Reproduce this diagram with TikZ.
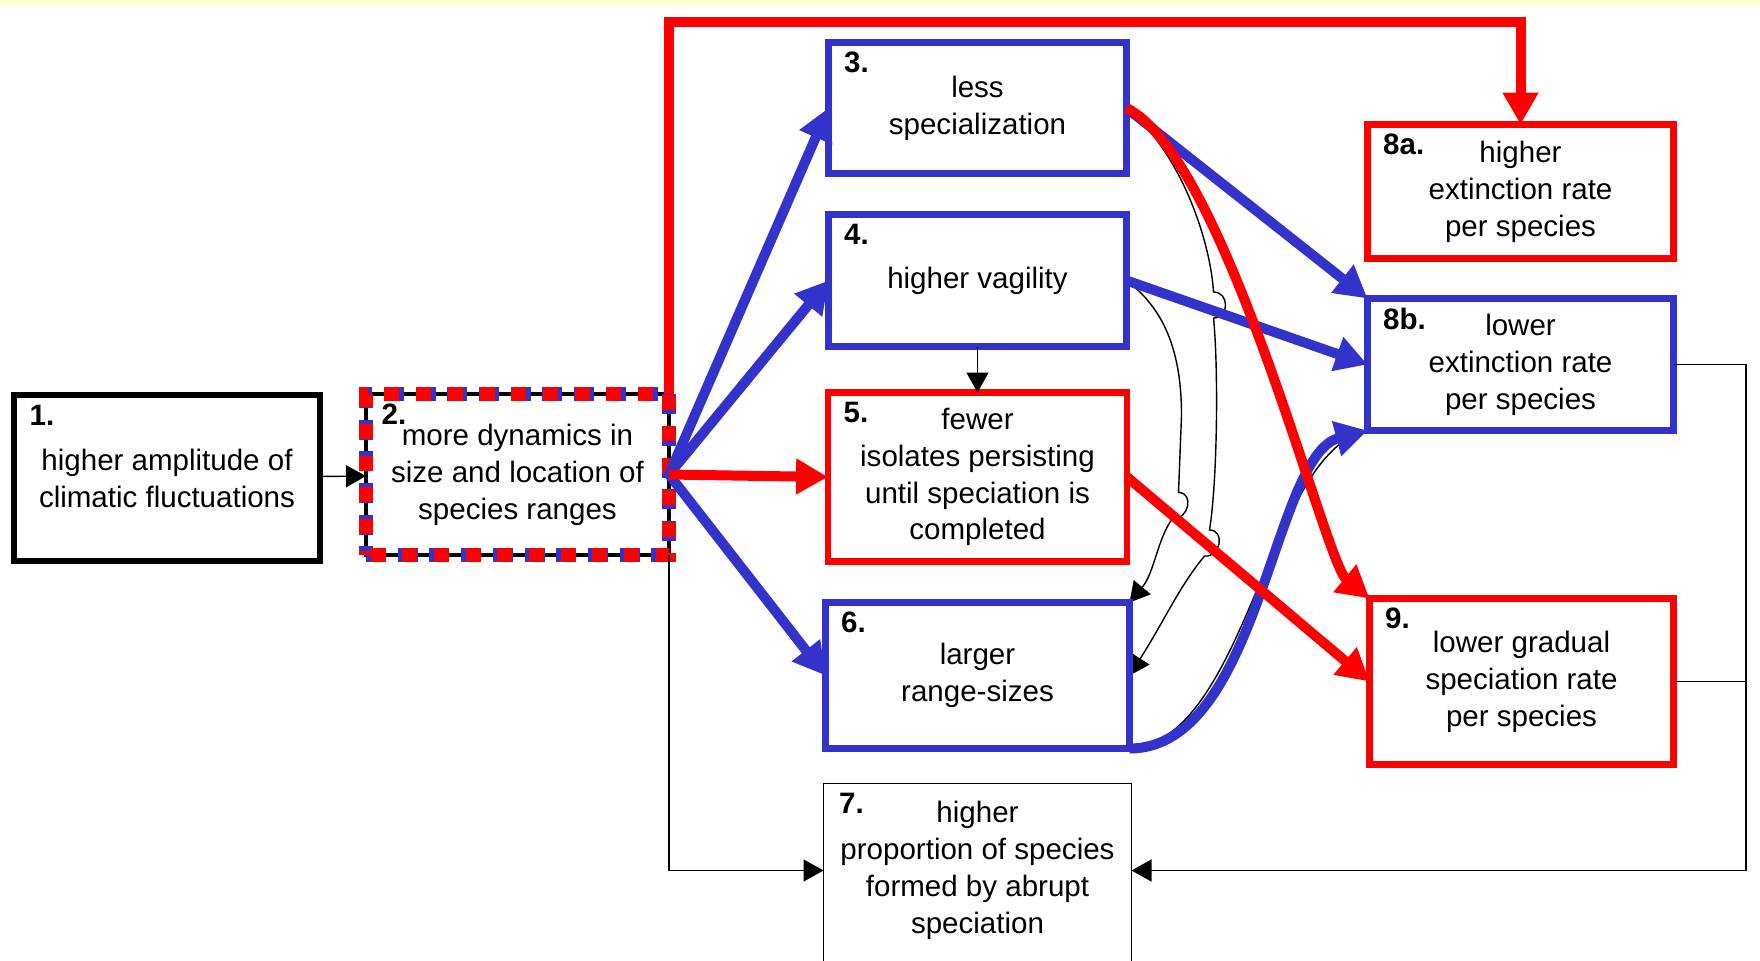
\documentclass[tikz,border=0pt]{standalone}
\usepackage{fontspec}
\setmainfont{Liberation Sans}
\usepackage{xcolor}
\usetikzlibrary{arrows.meta, positioning, calc, backgrounds}

\definecolor{linkblue}{RGB}{51,51,204}
\definecolor{linkred}{RGB}{255,0,0}
\definecolor{stripyellow}{RGB}{255,255,208}

\begin{document}
\begin{tikzpicture}[
    x=0.1mm, y=-0.1mm,
    node distance=4.1mm and 4mm,
    font=\fontsize{8.4}{10.5}\selectfont,
    base/.style={fill=white, align=center, inner sep=0pt, outer sep=0pt},
    bluebox/.style={base, draw=linkblue, line width=0.65mm},
    redbox/.style={base, draw=linkred, line width=0.65mm},
    blackbox/.style={base, draw=black, line width=0.65mm},
    mixbox/.style={base, draw=black, line width=0.45mm,
        postaction={draw=linkblue, line width=1.4mm, dash pattern=on 2mm off 1.17mm},
        postaction={draw=linkred, line width=1.4mm, dash pattern=on 1.5mm off 1.67mm, dash phase=2.72mm}},
    num/.style={anchor=north west, inner sep=0pt, xshift=1.5mm, yshift=-0.9mm,
        font=\fontsize{8.4}{10.5}\selectfont\bfseries},
    bluearrow/.style={-{Triangle[length=3.2mm, width=3.4mm]}, line width=1mm, draw=linkblue},
    redarrow/.style={-{Triangle[length=3.2mm, width=3.4mm]}, line width=1mm, draw=linkred},
    thinarrow/.style={-{Triangle[length=2mm, width=2.2mm]}, line width=0.4pt, draw=black},
    thinline/.style={line width=0.4pt, draw=black}
]
    \useasboundingbox (0,0) rectangle (1760,960);

    % Boxes
    \node[blackbox, minimum width=30.6mm, minimum height=16.6mm, label={[num]north west:1.}] (b1) at (167,478) {higher amplitude of\\climatic fluctuations};
    \node[mixbox, minimum width=30.3mm, minimum height=16.1mm, label={[num]north west:2.}] (b2) at (517.5,474.5) {more dynamics in\\size and location of\\species ranges};

    \node[bluebox, minimum width=29.8mm, minimum height=13.1mm, label={[num]north west:3.}] (b3) at (977.5,108) {less\\specialization};
    \node[bluebox, minimum width=29.8mm, minimum height=13.2mm, below=of b3, label={[num]north west:4.}] (b4) {higher vagility};
    \node[redbox, minimum width=29.9mm, minimum height=16.9mm, below=4.6mm of b4, label={[num]north west:5.}] (b5) {fewer\\isolates persisting\\until speciation is\\completed};
    \node[bluebox, minimum width=30.4mm, minimum height=14.6mm, below=of b5, label={[num]north west:6.}] (b6) {larger\\range-sizes};
    \node[base, minimum width=30.8mm, minimum height=17.4mm, below=3.5mm of b6, label={[num]north west:7.}] (b7) {higher\\proportion of species\\formed by abrupt\\speciation};
    % box 7 runs off the bottom edge
    \draw[thinline] ([yshift=-1mm]b7.south west) -- (b7.north west) -- (b7.north east) -- ([yshift=-1mm]b7.south east);

    \node[redbox, minimum width=30.6mm, minimum height=13.4mm, label={[num]north west:8a.}] (b8a) at (1520.5,191.5) {higher\\extinction rate\\per species};
    \node[bluebox, minimum width=30.6mm, minimum height=13.2mm, below=4mm of b8a, label={[num]north west:8b.}] (b8b) {lower\\extinction rate\\per species};
    \node[redbox, minimum width=30.4mm, minimum height=16.6mm, label={[num]north west:9.}] (b9) at (1521.5,681.5) {lower gradual\\speciation rate\\per species};

    % Thin links, partly hidden behind the boxes
    \begin{scope}[on background layer]
        \fill[stripyellow] (0,0) rectangle (1760,5);
        \draw[thinarrow] (b3.east) .. controls +(55,45) and +(-3,-50) .. ++(87,184)
            .. controls +(16,0) and +(16,0) .. ++(0,26)
            .. controls +(5,50) and +(8,-50) .. ++(-4,212)
            .. controls +(16,0) and +(16,2) .. ++(-5,26)
            .. controls +(-25,30) and +(35,-55) .. (b6.east);
        \draw[thinarrow] (b4.east) .. controls +(40,30) and +(0,-60) .. ++(55,135)
            -- ++(-3,77)
            .. controls +(16,0) and +(16,2) .. ++(-6,26)
            .. controls +(-15,20) and +(25,-30) .. (b6.north east);
        \draw[thinline] (b6.south east) .. controls +(118,-8) and +(-100,20) .. (b8b.south west);
    \end{scope}

    % Thin connectors
    \coordinate (rail) at (1746,0);
    \draw[thinarrow] (b1) -- (b2);
    \draw[thinarrow] (b4) -- (b5);
    \draw[thinarrow] (b2.south east) |- (b7.west);
    \draw[thinline] (b9.east) -- (b9.east -| rail);
    \draw[thinarrow] (b8b.east) -- (b8b.east -| rail) |- (b7.east);

    % Coloured connectors
    \coordinate (top) at (0,22);
    \draw[bluearrow] (b2.east) -- (b3.west);
    \draw[bluearrow] (b2.east) -- (b4.west);
    \draw[bluearrow] (b2.east) -- (b6.west);
    \draw[redarrow] (b2.east) -- (b5.west);
    \draw[redarrow] (b2.north east) -- (b2.north east |- top) -| (b8a.north);

    \draw[bluearrow] (b3.east) -- (b8b.north west);
    \draw[bluearrow] (b4.east) -- (b8b.west);
    \draw[bluearrow] (b6.south east) .. controls +(130,0) and +(-95,25) .. (b8b.south west);
    \draw[redarrow] (b3.east) .. controls +(100,50) and +(-45,-37) .. (b9.north west);
    \draw[redarrow] (b5.east) -- (b9.west);
\end{tikzpicture}
\end{document}
